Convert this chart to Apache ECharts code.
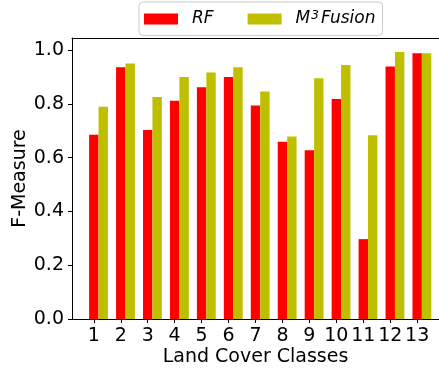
<!DOCTYPE html>
<html>
<head>
<meta charset="utf-8">
<script src="https://cdn.jsdelivr.net/npm/echarts@6/dist/echarts.min.js"></script>
<style>
html, body { margin: 0; padding: 0; background: #fff; }
#main { width: 439px; height: 371px; }
</style>
</head>
<body>
<div id="main"></div>
<script>
// land cover classes and per-class F-measure
const classes = [1, 2, 3, 4, 5, 6, 7, 8, 9, 10, 11, 12, 13];
const rfScores = [0.685, 0.936, 0.703, 0.812, 0.862, 0.900, 0.794, 0.659, 0.628, 0.818, 0.297, 0.939, 0.988];
const fusionScores = [0.789, 0.950, 0.826, 0.900, 0.917, 0.936, 0.846, 0.679, 0.895, 0.945, 0.683, 0.993, 0.988];
const yTicks = [0, 0.2, 0.4, 0.6, 0.8, 1.0];

const barStep = 0.35;   // second bar sits one bar width to the right
const font = 'DejaVu Sans';

let dom = document.getElementById('main');
let chart = echarts.init(dom);

let options = {
    animation: false,
    textStyle: { fontFamily: font },
    grid: { left: 72, top: 38, right: 0, bottom: 52, outerBoundsMode: 'none', containLabel: false },
    legend: {
        left: 139,
        top: 2,
        padding: [8, 7, 8, 5],
        itemWidth: 34,
        itemHeight: 11,
        itemGap: 34,
        icon: 'rect',
        borderColor: '#cccccc',
        borderWidth: 1,
        borderRadius: 4,
        formatter(name){
            if (name === 'RF') return '{g| }{t|RF}';
            return '{g| }{t|M}{s|3}{t|Fusion}';
        },
        textStyle: {
            fontFamily: font,
            fontSize: 17,
            color: '#000',
            rich: {
                g: { width: 9 },
                t: { fontFamily: font, fontSize: 17, fontStyle: 'italic', color: '#000' },
                s: { fontFamily: font, fontSize: 12, fontStyle: 'italic', color: '#000', verticalAlign: 'top', padding: [0, 2, 6, 1] }
            }
        },
        data: ['RF', 'M3Fusion']
    },
    xAxis: [{
        type: 'value',
        min: 0.19,
        max: 13.81,
        name: 'Land Cover Classes',
        nameLocation: 'middle',
        nameGap: 29,
        nameMoveOverlap: false,
        nameTextStyle: { fontFamily: font, fontSize: 19, color: '#000' },
        axisLine: { show: true, lineStyle: { color: '#000', width: 1 } },
        axisTick: { show: true, length: 4, customValues: classes, lineStyle: { color: '#000' } },
        axisLabel: { customValues: classes, fontFamily: font, fontSize: 19, color: '#000', margin: 8 },
        splitLine: { show: false }
    }, {
        type: 'value',
        position: 'top',
        min: 0.19,
        max: 13.81,
        axisLine: { show: true, lineStyle: { color: '#000', width: 1 } },
        axisTick: { show: false },
        axisLabel: { show: false },
        splitLine: { show: false }
    }],
    yAxis: {
        type: 'value',
        min: 0,
        max: 1.045,
        name: 'F-Measure',
        nameLocation: 'middle',
        nameGap: 42,
        nameMoveOverlap: false,
        nameTextStyle: { fontFamily: font, fontSize: 19, color: '#000' },
        axisLine: { show: true, lineStyle: { color: '#000', width: 1 } },
        axisTick: { show: true, length: 4, customValues: yTicks, lineStyle: { color: '#000' } },
        axisLabel: {
            customValues: yTicks,
            fontFamily: font,
            fontSize: 19,
            color: '#000',
            margin: 8,
            formatter(v){ return v.toFixed(1); }
        },
        splitLine: { show: false }
    },
    series: [{
        name: 'RF',
        type: 'bar',
        xAxisIndex: 0,
        barWidth: 9.4,
        barGap: '-100%',
        itemStyle: { color: '#ff0000' },
        data: classes.map((c, i) => [c, rfScores[i]])
    }, {
        name: 'M3Fusion',
        type: 'bar',
        xAxisIndex: 0,
        barWidth: 9.4,
        barGap: '-100%',
        itemStyle: { color: '#bfbf00' },
        data: classes.map((c, i) => [c + barStep, fusionScores[i]])
    }]
};

chart.setOption(options);
</script>
</body>
</html>
